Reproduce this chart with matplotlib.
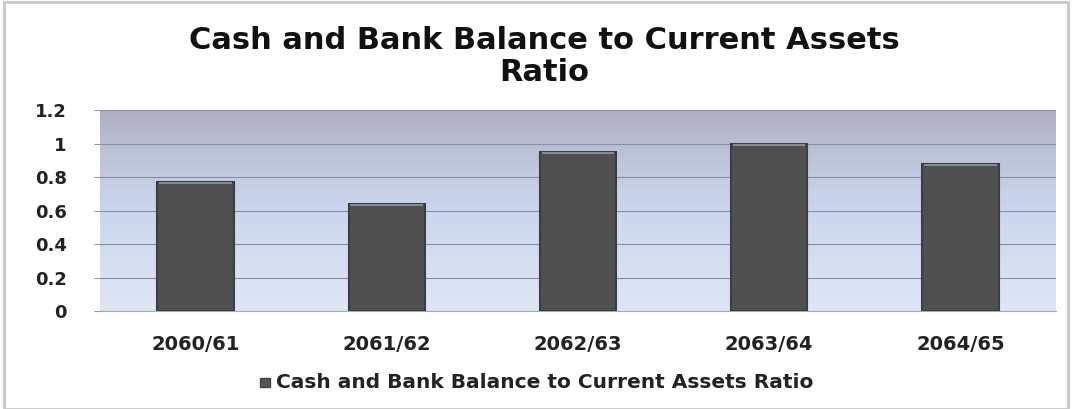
import numpy as np
import matplotlib.pyplot as plt
from matplotlib.colors import LinearSegmentedColormap
from matplotlib.patches import Rectangle

years = ['2060/61', '2061/62', '2062/63', '2063/64', '2064/65']
ratios = [0.77, 0.64, 0.95, 1.0, 0.88]
series_name = 'Cash and Bank Balance to Current Assets Ratio'
yticks = [0, 0.2, 0.4, 0.6, 0.8, 1, 1.2]
yticklabels = ['0', '0.2', '0.4', '0.6', '0.8', '1', '1.2']

plt.rcParams['font.family'] = ['DejaVu Sans']

fig = plt.figure(figsize=(10.72, 4.09), dpi=100)
ax = fig.add_axes([0.0933, 0.2396, 0.8917, 0.4914])

# background gradient, light blue at bottom to greyish at top
bg = LinearSegmentedColormap.from_list('bg', [(0.0, '#dfe6f4'), (0.5, '#cbd7ee'),
                                              (0.83, '#b9bfd2'), (1.0, '#adafc0')])
grad = np.linspace(0, 1, 256).reshape(-1, 1)
ax.imshow(grad, cmap=bg, aspect='auto', origin='lower',
          extent=[-0.5, len(years) - 0.5, 0, 1.2], zorder=0)

x = np.arange(len(years))
ax.bar(x, ratios, width=0.4, color='#505050', edgecolor='#3a3f45', linewidth=1.5, zorder=3)
# light top rim on the bars
ax.bar(x, [0.012] * len(x), bottom=np.array(ratios) - 0.012, width=0.38,
       color='#8a8a8a', linewidth=0, zorder=4)

ax.set_xlim(-0.5, len(years) - 0.5)
ax.set_ylim(0, 1.2)
ax.set_yticks(yticks)
ax.set_yticklabels(yticklabels, fontsize=13, fontweight='bold', color='#222222')
ax.set_xticks(x)
ax.set_xticklabels(years, fontsize=14, fontweight='bold', color='#222222')
ax.tick_params(axis='x', length=0, pad=17)
ax.tick_params(axis='y', length=4, color='#999999', pad=20)
ax.yaxis.grid(True, color='#8790a8', linewidth=0.8, zorder=1)
ax.set_axisbelow(False)
for s in ['top', 'right', 'left']:
    ax.spines[s].set_visible(False)
ax.spines['bottom'].set_color('#aaaaaa')

fig.text(0.508, 0.902, 'Cash and Bank Balance to Current Assets', ha='center', va='center',
         fontsize=22, fontweight='bold', color='#111111')
fig.text(0.508, 0.822, 'Ratio', ha='center', va='center',
         fontsize=22, fontweight='bold', color='#111111')

# legend
fig.patches.append(Rectangle((0.2425, 0.053), 0.0095, 0.024, transform=fig.transFigure,
                             facecolor='#555555', edgecolor='#444444'))
fig.text(0.257, 0.064, series_name, ha='left', va='center', fontsize=14.5,
         fontweight='bold', color='#222222')

# outer frame
fig.patches.append(Rectangle((0.004, 0.0), 0.992, 0.995, transform=fig.transFigure,
                             fill=False, edgecolor='#c8c8c8', linewidth=2))

fig.savefig('out.png', dpi=100)
